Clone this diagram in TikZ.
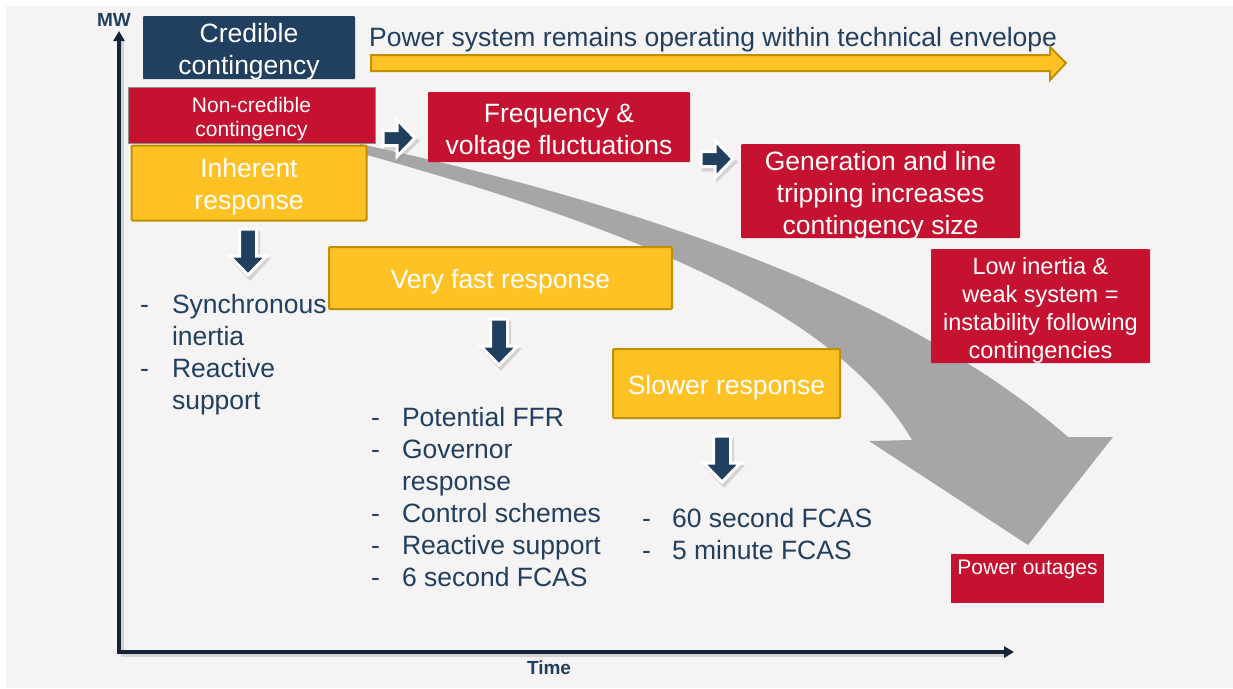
\documentclass[tikz,border=0pt]{standalone}
\usepackage{fontspec}
\setmainfont{Liberation Sans}
\usetikzlibrary{arrows.meta}
\definecolor{bg}{RGB}{245,243,244}
\definecolor{navy}{RGB}{33,63,95}
\definecolor{axisc}{RGB}{22,36,58}
\definecolor{cred}{RGB}{196,18,48}
\definecolor{cyel}{RGB}{255,194,36}
\definecolor{cyelb}{RGB}{191,144,0}
\definecolor{cgray}{RGB}{166,166,166}
\newcommand{\mlt}[1]{\begin{tabular}[t]{@{}c@{}}#1\end{tabular}}
\begin{document}
\begin{tikzpicture}[x=1pt,y=-1pt,
  box/.style={rectangle, rounded corners=1pt, inner sep=0pt, text=white, anchor=north},
  hd/.style 2 args={text height=#1pt, text depth=#2pt},
  redbox/.style={box, fill=cred},
  darkbox/.style={box, fill=navy},
  yelbox/.style={box, fill=cyel, draw=cyelb, line width=2pt},
  fbig/.style={font=\fontsize{26.5}{32}\selectfont},
  fmid/.style={font=\fontsize{23.5}{28}\selectfont},
  fsmall/.style={font=\fontsize{21}{24}\selectfont},
  bul/.style={inner sep=0pt, text=navy, font=\fontsize{26.5}{32}\selectfont},
  axlab/.style={inner sep=0pt, text=navy, font=\bfseries\fontsize{19}{19}\selectfont},
  axis/.style={draw=axisc, line width=3.5pt, -{Triangle[length=10pt,width=11pt]}},
  axshadow/.style={draw=black!25, line width=3.5pt, opacity=0.6},
  downarr/.pic={
    \fill[black!40, opacity=0.35, shift={(2,3)}] (-10,-1.5) -- (10,-1.5) -- (10,26) -- (21,26) -- (0,49) -- (-21,26) -- (-10,26) -- cycle;
    \filldraw[fill=navy, draw=white, line width=3pt, line join=miter] (-8.5,0) -- (8.5,0) -- (8.5,27) -- (18.5,27) -- (0,46) -- (-18.5,27) -- (-8.5,27) -- cycle;
  },
  rightarr/.pic={
    \fill[black!40, opacity=0.35, shift={(2,3)}] (-1.5,-9.5) -- (13,-9.5) -- (13,-21) -- (35,0) -- (13,21) -- (13,9.5) -- (-1.5,9.5) -- cycle;
    \filldraw[fill=navy, draw=white, line width=3pt, line join=miter] (0,-7.5) -- (14,-7.5) -- (14,-18.5) -- (32,0) -- (14,18.5) -- (14,7.5) -- (0,7.5) -- cycle;
  }
]
\useasboundingbox (0,0) rectangle (1233,688);
\fill[white] (0,0) rectangle (1233,688);
\fill[bg] (6,6) rectangle (1233,688);

% big gray curved arrow
\fill[cgray] (360,144) .. controls (620,200) and (900,290) .. (1068,437)
  -- (1113,437) -- (1028,545) -- (869,441) -- (912,440)
  .. controls (830,300) and (600,220) .. (360,153) -- cycle;

% axes
\coordinate (O) at (119,652);
\coordinate (ytip) at (119,31);
\coordinate (xtip) at (1014,652);
\draw[axshadow] (121,655) -- (1008,655);
\draw[axshadow] (122,652) -- (122,40);
\draw[axis] (O) -- (ytip);
\draw[axis] ([xshift=-1.75pt]O) -- (xtip);
\node[axlab] (mw) at (114,20) {MW};
\node[axlab] (time) at (549,668) {Time};

% top line
\node[darkbox, fbig, minimum width=212pt, hd={26}{37}] (cred) at (249,16) {\mlt{Credible\\contingency}};
\node[inner sep=0pt, anchor=west, text=navy, fbig] (env) at (369,40) {Power system remains operating within technical envelope};
\filldraw[fill=cyel, draw=cyelb, line width=2pt, line join=miter] (371,55) -- (1050,55) -- (1050,47) -- (1066,63) -- (1050,80) -- (1050,71) -- (371,71) -- cycle;

% boxes
\node[redbox, fsmall, draw=black!45, line width=1pt, rounded corners=0pt, minimum width=247pt, hd={25}{31}] (noncred) at (251.5,87) {\mlt{Non-credible\\contingency}};
\node[yelbox, fbig, minimum width=235pt, hd={31.5}{43.5}] (inh) at (249,144.5) {\mlt{Inherent\\response}};
\node[redbox, fbig, minimum width=262pt, hd={30}{40}] (freq) at (559,92) {\mlt{Frequency \&\\voltage fluctuations}};
\node[redbox, fbig, minimum width=279pt, hd={26}{68}] (gen) at (880.5,144) {\mlt{Generation and line\\tripping increases\\contingency size}};
\node[redbox, fmid, minimum width=219pt, hd={25}{89}] (low) at (1040.5,249) {\mlt{Low inertia \&\\weak system =\\instability following\\contingencies}};
\node[yelbox, fbig, minimum width=343pt, hd={41}{21}] (vfast) at (500.5,246) {Very fast response};
\node[yelbox, fbig, minimum width=227pt, hd={45}{24}] (slow) at (726.5,348) {Slower response};
\node[redbox, rounded corners=0pt, fsmall, minimum width=153pt, hd={20}{29}] (out) at (1027.5,554) {Power outages};

% small block arrows
\pic at (383,138) {rightarr};
\pic at (701,159) {rightarr};
\pic at (248,229) {downarr};
\pic at (499,319) {downarr};
\pic at (722,436) {downarr};

% bullet lists
\node[bul, anchor=base west] (l1) at (140,313) {\begin{tabular}[t]{@{}l@{\hspace{23pt}}l@{}}-&Synchronous\\&inertia\\-&Reactive\\&support\end{tabular}};
\node[bul, anchor=base west] (l2) at (371,426) {\begin{tabular}[t]{@{}l@{\hspace{22pt}}l@{}}-&Potential FFR\\-&Governor\\&response\\-&Control schemes\\-&Reactive support\\-&6 second FCAS\end{tabular}};
\node[bul, anchor=base west] (l3) at (642,527) {\begin{tabular}[t]{@{}l@{\hspace{21pt}}l@{}}-&60 second FCAS\\-&5 minute FCAS\end{tabular}};
\end{tikzpicture}
\end{document}
